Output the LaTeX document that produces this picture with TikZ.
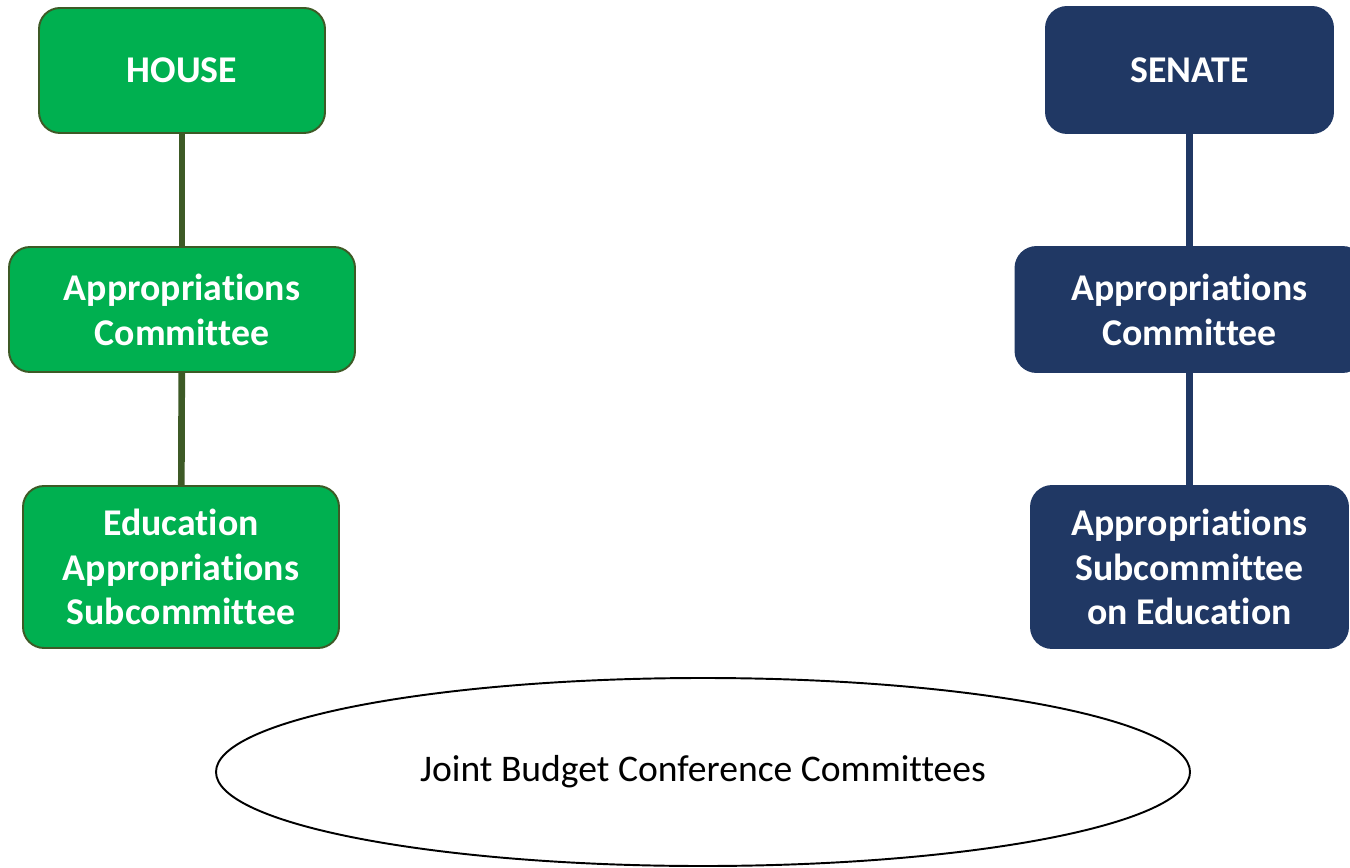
\documentclass[tikz,border=0pt]{standalone}
\usepackage{fontspec}
\setmainfont{Carlito}[Ligatures=NoCommon]
\usepackage{tikz}
\usetikzlibrary{shapes.geometric}
\definecolor{housegreen}{HTML}{00B050}
\definecolor{houseline}{HTML}{3D5A26}
\definecolor{senatenavy}{HTML}{203864}

\begin{document}
\begin{tikzpicture}[
	housebox/.style={draw=houseline,line width=1.1pt,fill=housegreen,rounded corners=0.42cm,text=white,align=center,font=\fontsize{21.5}{25.5}\selectfont\bfseries,inner sep=0pt},
	senatebox/.style={draw=senatenavy,line width=1.1pt,fill=senatenavy,rounded corners=0.42cm,text=white,align=center,font=\fontsize{21.5}{25.5}\selectfont\bfseries,inner sep=0pt},
	houselink/.style={draw=houseline,line width=3.8pt},
	senatelink/.style={draw=senatenavy,line width=3.8pt}]
		\useasboundingbox (0,0) rectangle (27,-17.36);
		\node[housebox,minimum width=5.72cm,minimum height=2.5cm] (house) at (3.64,-1.41) {HOUSE}; %左
		\node[housebox,minimum width=6.92cm,minimum height=2.5cm] (houseapp) at (3.64,-6.19) {Appropriations\\Committee};
		\node[housebox,minimum width=6.32cm,minimum height=3.24cm] (housesub) at (3.62,-11.34) {Education\\Appropriations\\Subcommittee};
		\node[senatebox,minimum width=5.74cm,minimum height=2.52cm] (senate) at (23.79,-1.40) {SENATE}; %右
		\node[senatebox,minimum width=6.96cm,minimum height=2.5cm] (senateapp) at (23.79,-6.19) {Appropriations\\Committee};
		\node[senatebox,minimum width=6.34cm,minimum height=3.24cm] (senatesub) at (23.79,-11.34) {Appropriations\\Subcommittee\\on Education};
		\node[ellipse,draw=black,line width=1.1pt,minimum width=19.48cm,minimum height=3.76cm,inner sep=0pt,font=\fontsize{21.4}{25}\selectfont] (joint) at (14.06,-15.44) {Joint Budget Conference Committees};
		\draw[houselink] (house)--(houseapp);
		\draw[houselink] (houseapp)--(housesub);
		\draw[senatelink] (senate)--(senateapp);
		\draw[senatelink] (senateapp)--(senatesub);
	\end{tikzpicture}
\end{document}
